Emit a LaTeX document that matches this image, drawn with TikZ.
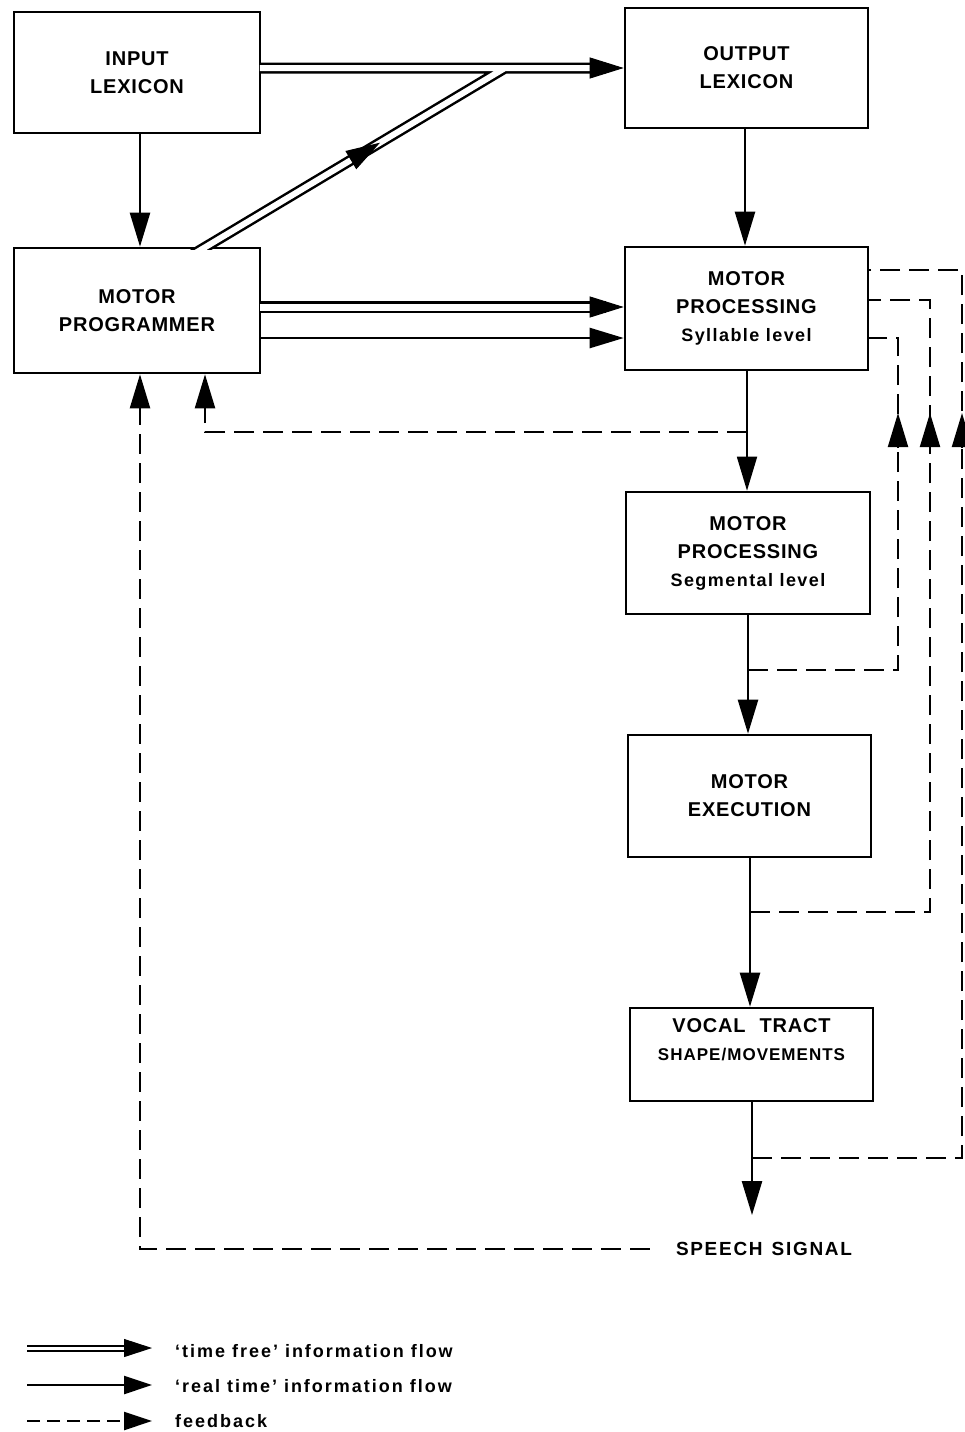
\documentclass[tikz,border=0pt]{standalone}
\usepackage{fontspec}
\setmainfont{Liberation Sans}[LetterSpace=4]
\usetikzlibrary{arrows.meta,calc}
\newcommand{\lowtxt}[1]{{\fontsize{18}{27}\selectfont\addfontfeature{LetterSpace=8}#1}}
\begin{document}
\begin{tikzpicture}[x=1pt,y=-1pt,
  box/.style={draw, line width=2.6pt, align=center, inner sep=0pt, font=\fontsize{20}{28}\selectfont\bfseries},
  rt/.style={line width=2.4pt, -{Triangle[length=34pt,width=20pt]}},
  tf/.style={line width=2.5pt, double, double distance=6pt},
  tftip/.style={line width=1pt, -{Triangle[length=34pt,width=21pt]}},
  fb/.style={line width=2.3pt, dash pattern=on 20pt off 9pt},
  fbtip/.style={line width=2pt, -{Triangle[length=34pt,width=20pt]}},
  legtxt/.style={anchor=base west, inner sep=0pt, font=\fontsize{18}{22}\selectfont\bfseries\addfontfeature{LetterSpace=11}},
]
\useasboundingbox (0,0) rectangle (964,1432);
\fill[white] (0,0) rectangle (964,1432);

% boxes
\node[box, minimum width=246pt, minimum height=121pt] (inlex) at (137,72.5) {INPUT\\LEXICON};
\node[box, minimum width=243pt, minimum height=120pt] (outlex) at (746.5,68) {OUTPUT\\LEXICON};
\node[box, minimum width=246pt, minimum height=125pt] (mprog) at (137,310.5) {MOTOR\\PROGRAMMER};
\node[box, minimum width=243pt, minimum height=123pt] (syl) at (746.5,308.5) {MOTOR\\PROCESSING\\\lowtxt{Syllable level}};
\node[box, minimum width=244pt, minimum height=122pt] (seg) at (748,553) {MOTOR\\PROCESSING\\\lowtxt{Segmental level}};
\node[box, minimum width=243pt, minimum height=122pt] (exec) at (749.5,796) {MOTOR\\EXECUTION};
\node[box, minimum width=243pt, minimum height=93pt, text depth=30pt] (vt) at (751.5,1054.5) {VOCAL\hspace{14pt}TRACT\\{\fontsize{17}{24}\selectfont\addfontfeature{LetterSpace=6}SHAPE/MOVEMENTS}};
\node[inner sep=0pt, font=\fontsize{19}{22}\selectfont\bfseries\addfontfeature{LetterSpace=9}] (speech) at (764,1249) {SPEECH\hspace{9pt}SIGNAL};

% helper coordinates
\coordinate (x140) at (140,0);
\coordinate (x205) at (205,0);
\coordinate (x206) at (206,0);
\coordinate (x745) at (745,0);
\coordinate (x747) at (747,0);
\coordinate (x748) at (748,0);
\coordinate (x750) at (750,0);
\coordinate (x752) at (752,0);
\coordinate (cA) at (898,0);
\coordinate (cB) at (930,0);
\coordinate (cC) at (962,0);
\coordinate (y68) at (0,68);
\coordinate (y307) at (0,307);
\coordinate (y338) at (0,338);
\coordinate (hA) at (0,338);
\coordinate (hB) at (0,300);
\coordinate (hC) at (0,270);
\coordinate (ar) at (0,413);
\coordinate (arb) at (0,447);

% real-time arrows
\draw[rt] (inlex.south -| x140) -- (mprog.north -| x140);
\draw[rt] (outlex.south -| x745) -- (syl.north -| x745);
\draw[rt, line width=1.8pt] (syl.south -| x747) -- (seg.north -| x747);
\draw[rt] (seg.south -| x748) -- (exec.north -| x748);
\draw[rt] (exec.south -| x750) -- (vt.north -| x750);
\draw[rt, shorten >=27pt] (vt.south -| x752) -- (speech.north -| x752);
\draw[rt] (mprog.east |- y338) -- (syl.west |- y338);

% time-free arrows
\coordinate (d1) at (mprog.north -| x206);
\coordinate (m) at (505,68);
\coordinate (tA) at (outlex.west |- y68);
\coordinate (tB) at (syl.west |- y307);
\begin{scope}
  \clip (0,0) rectangle (964,249.5);
  \draw[tf] ($(inlex.east |- y68)+(-1.4,0)$) -- ($(tA)+(-18,0)$)
            (m) -- ($(m)!1.044!(d1)$);
\end{scope}
\draw[tftip] ($(tA)+(-34,0)$) -- (tA);
\draw[tftip] ($(d1)!0.485!(m)$) -- ($(d1)!0.582!(m)$);
\draw[tf, double distance=7pt] ($(mprog.east |- y307)+(-1.4,0)$) -- ($(tB)+(-18,0)$);
\draw[tftip] ($(tB)+(-34,0)$) -- (tB);

% feedback
\coordinate (j1) at (747,432);
\coordinate (j2) at (748,670);
\coordinate (j3) at (750,912);
\coordinate (j4) at (752,1158);
\draw[fb, -{Triangle[length=34pt,width=20pt]}] (j1) -| (x205 |- mprog.south);
\draw[fb, -{Triangle[length=34pt,width=20pt]}, shorten <=26pt] (speech.west) -| (x140 |- mprog.south);
\draw[fb] (j2) -| (cA |- hA) -- (syl.east |- hA);
\draw[fb] (j3) -| (cB |- hB) -- (syl.east |- hB);
\draw[fb] (j4) -| (cC |- hC) -- (syl.east |- hC);
\draw[fbtip] (cA |- arb) -- (cA |- ar);
\draw[fbtip] (cB |- arb) -- (cB |- ar);
\draw[fbtip] (cC |- arb) -- (cC |- ar);

% legend
\coordinate (L1a) at (27,1348);
\coordinate (L1b) at (152,1348);
\coordinate (L2a) at (27,1385);
\coordinate (L2b) at (152,1385);
\coordinate (L3a) at (27,1421);
\coordinate (L3b) at (152,1421);
\draw[line width=2pt, double, double distance=3pt] (L1a) -- ($(L1b)+(-14,0)$);
\draw[line width=1pt, -{Triangle[length=28pt,width=18pt]}] ($(L1b)+(-28,0)$) -- (L1b);
\draw[line width=2.4pt, -{Triangle[length=28pt,width=18pt]}] (L2a) -- (L2b);
\draw[line width=2.4pt, dash pattern=on 13pt off 7pt, -{Triangle[length=28pt,width=18pt]}] (L3a) -- (L3b);
\node[legtxt] (lg1) at (175,1357) {`time free' information flow};
\node[legtxt] (lg2) at (175,1392) {`real time' information flow};
\node[legtxt] (lg3) at (175,1427) {feedback};
\end{tikzpicture}
\end{document}
